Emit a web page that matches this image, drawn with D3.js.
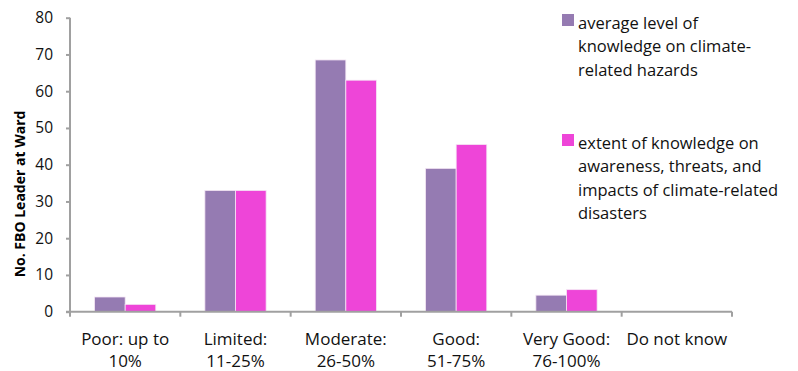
<!DOCTYPE html>
<html>
<head>
<meta charset="utf-8">
<script src="https://cdn.jsdelivr.net/npm/d3@7"></script>
<style>
  html, body { margin: 0; padding: 0; background: #fff; }
  svg { display: block; font-family: "Open Sans", sans-serif; }
</style>
</head>
<body>
<svg id="chart" width="798" height="371"></svg>
<script>
// Knowledge level categories (x axis)
const categories = [
  ["Poor: up to", "10%"],
  ["Limited:", "11-25%"],
  ["Moderate:", "26-50%"],
  ["Good:", "51-75%"],
  ["Very Good:", "76-100%"],
  ["Do not know", ""]
];
const categoryKeys = ["Poor", "Limited", "Moderate", "Good", "VeryGood", "DoNotKnow"];

// Series
const seriesNames = ["hazards", "disasters"];
const hazardsValues = [4, 33, 68.5, 39, 4.5, 0];
const disastersValues = [2, 33, 63, 45.5, 6, 0];
const seriesColors = ["#957bb2", "#ee45d8"];
const legendLines = [
  ["average level of", "knowledge on climate-", "related hazards"],
  ["extent of knowledge on", "awareness, threats, and", "impacts of climate-related", "disasters"]
];

const yTicks = [0, 10, 20, 30, 40, 50, 60, 70, 80];
const yTitle = "No. FBO Leader at Ward";

const svg = d3.select("#chart");
const plotLeft = 70, plotRight = 732, plotTop = 17.7, plotBottom = 311.7;

const x = d3.scaleBand().domain(categoryKeys).range([plotLeft, plotRight])
  .paddingInner(0.445).paddingOuter(0.2225);
const xs = d3.scaleBand().domain(seriesNames).range([0, x.bandwidth()]);
const y = d3.scaleLinear().domain([0, 80]).range([plotBottom, plotTop]);

const axisColor = "#a0a0a0";
const textColor = "#111";

// Bars
const rows = categoryKeys.map((k, i) => ({ key: k, values: [hazardsValues[i], disastersValues[i]] }));
const groups = svg.append("g").selectAll("g").data(rows).join("g")
  .attr("transform", d => `translate(${x(d.key)},0)`);
groups.selectAll("rect")
  .data(d => d.values.map((v, j) => ({ s: seriesNames[j], v, j })).filter(e => e.v > 0))
  .join("rect")
  .attr("x", e => xs(e.s))
  .attr("width", xs.bandwidth())
  .attr("y", e => y(e.v))
  .attr("height", e => y(0) - y(e.v))
  .attr("fill", e => seriesColors[e.j])
  .attr("stroke", "#f4e6f4")
  .attr("stroke-width", 0.8);

// Y axis
const yAxis = svg.append("g").attr("transform", `translate(${plotLeft},0)`)
  .call(d3.axisLeft(y).tickValues(yTicks).tickSize(4).tickPadding(13));
yAxis.select(".domain").attr("stroke", axisColor).attr("stroke-width", 2)
  .attr("d", `M0,${plotTop}V${plotBottom}`);
yAxis.selectAll(".tick line").attr("stroke", axisColor).attr("stroke-width", 2);
yAxis.selectAll(".tick text").attr("font-size", 15.5).attr("fill", textColor)
  .attr("font-family", "Open Sans, sans-serif");

// X axis: ticks at category boundaries
const step = x.step();
const boundaries = d3.range(categoryKeys.length + 1).map(i => plotLeft + i * step);
const xAxisG = svg.append("g");
xAxisG.append("line").attr("x1", plotLeft - 4).attr("x2", plotRight).attr("y1", plotBottom).attr("y2", plotBottom)
  .attr("stroke", axisColor).attr("stroke-width", 2);
xAxisG.selectAll("line.tk").data(boundaries).join("line").attr("class", "tk")
  .attr("x1", d => d).attr("x2", d => d).attr("y1", plotBottom).attr("y2", plotBottom + 5)
  .attr("stroke", axisColor).attr("stroke-width", 2);

// Category labels
const catLabels = svg.append("g").selectAll("text").data(categories).join("text")
  .attr("x", (d, i) => x(categoryKeys[i]) + x.bandwidth() / 2)
  .attr("y", 345)
  .attr("text-anchor", "middle")
  .attr("font-size", 17)
  .attr("fill", textColor);
catLabels.selectAll("tspan").data(d => d.filter(s => s)).join("tspan")
  .attr("x", function () { return this.parentNode.getAttribute("x"); })
  .attr("dy", (d, i) => i === 0 ? 0 : 21.5)
  .text(d => d);

// Y title
svg.append("text")
  .attr("transform", "translate(25,194) rotate(-90)")
  .attr("text-anchor", "middle")
  .attr("font-size", 14)
  .attr("font-weight", "bold")
  .attr("fill", "#000")
  .text(yTitle);

// Legend
const legendY = [14, 134];
const lg = svg.append("g").selectAll("g").data(legendLines).join("g")
  .attr("transform", (d, i) => `translate(562,${legendY[i]})`);
lg.append("rect").attr("width", 12).attr("height", 12)
  .attr("fill", (d, i) => seriesColors[i]);
lg.append("text").attr("x", 16).attr("y", 14.5).attr("font-size", 16.5).attr("fill", textColor)
  .selectAll("tspan").data(d => d).join("tspan")
  .attr("x", 16).attr("dy", (d, i) => i === 0 ? 0 : 23.6)
  .text(d => d);
</script>
</body>
</html>
